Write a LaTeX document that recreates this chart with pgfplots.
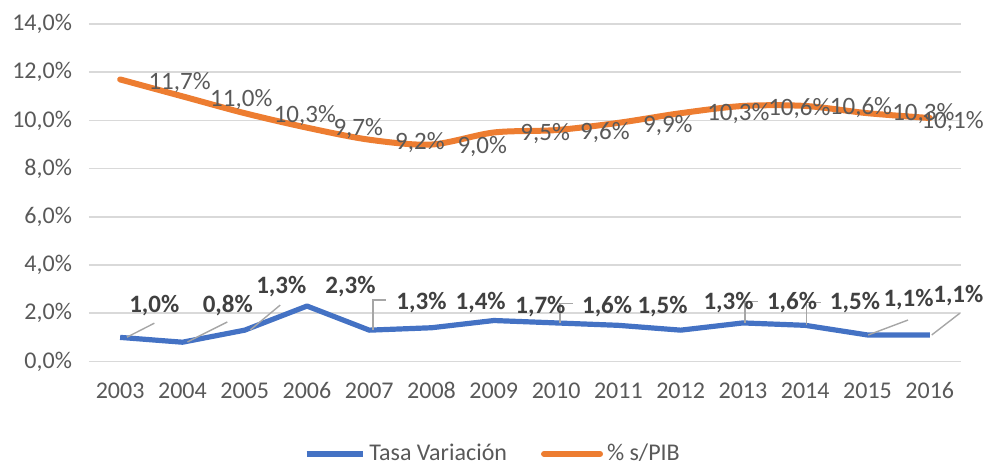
\documentclass[border=0pt]{standalone}
\usepackage{pgfplots}
\pgfplotsset{compat=1.18}
\usepackage{fontspec}
\setmainfont{Carlito}
\definecolor{cblue}{HTML}{4472C4}
\definecolor{corange}{HTML}{ED7D31}
\definecolor{cgrid}{HTML}{D9D9D9}
\definecolor{ctext}{HTML}{595959}
\definecolor{cdark}{HTML}{404040}
\definecolor{clead}{HTML}{A6A6A6}
\begin{document}
\begin{tikzpicture}
\useasboundingbox (-44.5pt,-51.75pt) rectangle (449pt,180.75pt);
\begin{axis}[
  at={(0,0)}, anchor=south west,
  scale only axis,
  width=436pt, height=168.75pt,
  xmin=2002.5, xmax=2016.5,
  ymin=0, ymax=14,
  xtick={2003,...,2016},
  ytick={0,2,...,14},
  yticklabels={{0,0\%},{2,0\%},{4,0\%},{6,0\%},{8,0\%},{10,0\%},{12,0\%},{14,0\%}},
  /pgf/number format/1000 sep={},
  /pgf/number format/assume math mode=true,
  ymajorgrids,
  grid style={cgrid, line width=0.8pt},
  axis line style={draw=none},
  major tick length=0pt,
  tick label style={font=\fontsize{12}{14}\selectfont, text=ctext},
  yticklabel style={xshift=-5pt},
  xticklabel style={yshift=-7pt},
  clip=false,
  legend style={at={(0.4644,-0.274)}, anchor=center, draw=none, fill=none,
    legend columns=2, font=\fontsize{12}{14}\selectfont, text=ctext,
    /tikz/every even column/.append style={column sep=15pt},
    inner sep=0pt},
  legend cell align=left,
  legend image code/.code={\draw[#1] (0pt,0pt) -- (28pt,0pt);},
]
\addplot[cblue, line width=2.6pt, line join=round] coordinates {
(2003,1.0) (2004,0.8) (2005,1.3) (2006,2.3) (2007,1.3) (2008,1.4) (2009,1.7)
(2010,1.6) (2011,1.5) (2012,1.3) (2013,1.6) (2014,1.5) (2015,1.1) (2016,1.1)};
\addlegendentry{Tasa Variación}
\addplot[corange, line width=3pt, smooth, tension=0.5, line cap=round] coordinates {
(2003,11.7) (2004,11.0) (2005,10.3) (2006,9.7) (2007,9.2) (2008,9.0) (2009,9.5)
(2010,9.6) (2011,9.9) (2012,10.3) (2013,10.6) (2014,10.6) (2015,10.3) (2016,10.1)};
\addlegendentry{\% s/PIB}

% leader lines
\draw[clead, line width=0.7pt] (axis cs:2003.11,1.01) -- (axis cs:2003.55,1.59);
\draw[clead, line width=0.7pt] (axis cs:2004.08,0.81) -- (axis cs:2004.72,1.64);
\draw[clead, line width=0.7pt] (axis cs:2005.09,1.31) -- (axis cs:2005.57,2.34);
\draw[clead, line width=0.7pt] (axis cs:2007.06,1.3) -- (axis cs:2007.06,2.55) -- (axis cs:2007.27,2.55);
\draw[clead, line width=0.7pt] (axis cs:2010.06,1.6) -- (axis cs:2010.06,2.41) -- (axis cs:2010.27,2.41);
\draw[clead, line width=0.7pt] (axis cs:2013.03,1.6) -- (axis cs:2013.03,2.48) -- (axis cs:2013.24,2.48);
\draw[clead, line width=0.7pt] (axis cs:2014.02,1.5) -- (axis cs:2014.02,2.44) -- (axis cs:2014.26,2.44);
\draw[clead, line width=0.7pt] (axis cs:2015.01,1.1) -- (axis cs:2015.65,1.72);
\draw[clead, line width=0.7pt] (axis cs:2016.03,1.1) -- (axis cs:2016.48,2.0);

% blue labels
\begin{scope}[every node/.style={anchor=west, inner sep=0pt, text=cdark, font=\bfseries\fontsize{12.5}{14}\selectfont}]
\node at (axis cs:2003.14,2.34) {1,0\%};
\node at (axis cs:2004.32,2.34) {0,8\%};
\node at (axis cs:2005.18,3.09) {1,3\%};
\node at (axis cs:2006.29,3.09) {2,3\%};
\node at (axis cs:2007.43,2.43) {1,3\%};
\node at (axis cs:2008.38,2.43) {1,4\%};
\node at (axis cs:2009.34,2.26) {1,7\%};
\node at (axis cs:2010.41,2.26) {1,6\%};
\node at (axis cs:2011.30,2.26) {1,5\%};
\node at (axis cs:2012.36,2.43) {1,3\%};
\node at (axis cs:2013.38,2.43) {1,6\%};
\node at (axis cs:2014.39,2.43) {1,5\%};
\node at (axis cs:2015.25,2.55) {1,1\%};
\node at (axis cs:2016.05,2.72) {1,1\%};
\end{scope}
% orange labels
\begin{scope}[every node/.style={anchor=west, inner sep=0pt, text=ctext, font=\fontsize{12.5}{14}\selectfont}]
\node at (axis cs:2003.45,11.59) {11,7\%};
\node at (axis cs:2004.44,10.85) {11,0\%};
\node at (axis cs:2005.46,10.22) {10,3\%};
\node at (axis cs:2006.42,9.68) {9,7\%};
\node at (axis cs:2007.41,9.10) {9,2\%};
\node at (axis cs:2008.41,8.90) {9,0\%};
\node at (axis cs:2009.42,9.45) {9,5\%};
\node at (axis cs:2010.38,9.50) {9,6\%};
\node at (axis cs:2011.39,9.80) {9,9\%};
\node at (axis cs:2012.42,10.30) {10,3\%};
\node at (axis cs:2013.40,10.50) {10,6\%};
\node at (axis cs:2014.39,10.55) {10,6\%};
\node at (axis cs:2015.39,10.30) {10,3\%};
\node at (axis cs:2015.86,9.95) {10,1\%};
\end{scope}
\end{axis}
\end{tikzpicture}
\end{document}
